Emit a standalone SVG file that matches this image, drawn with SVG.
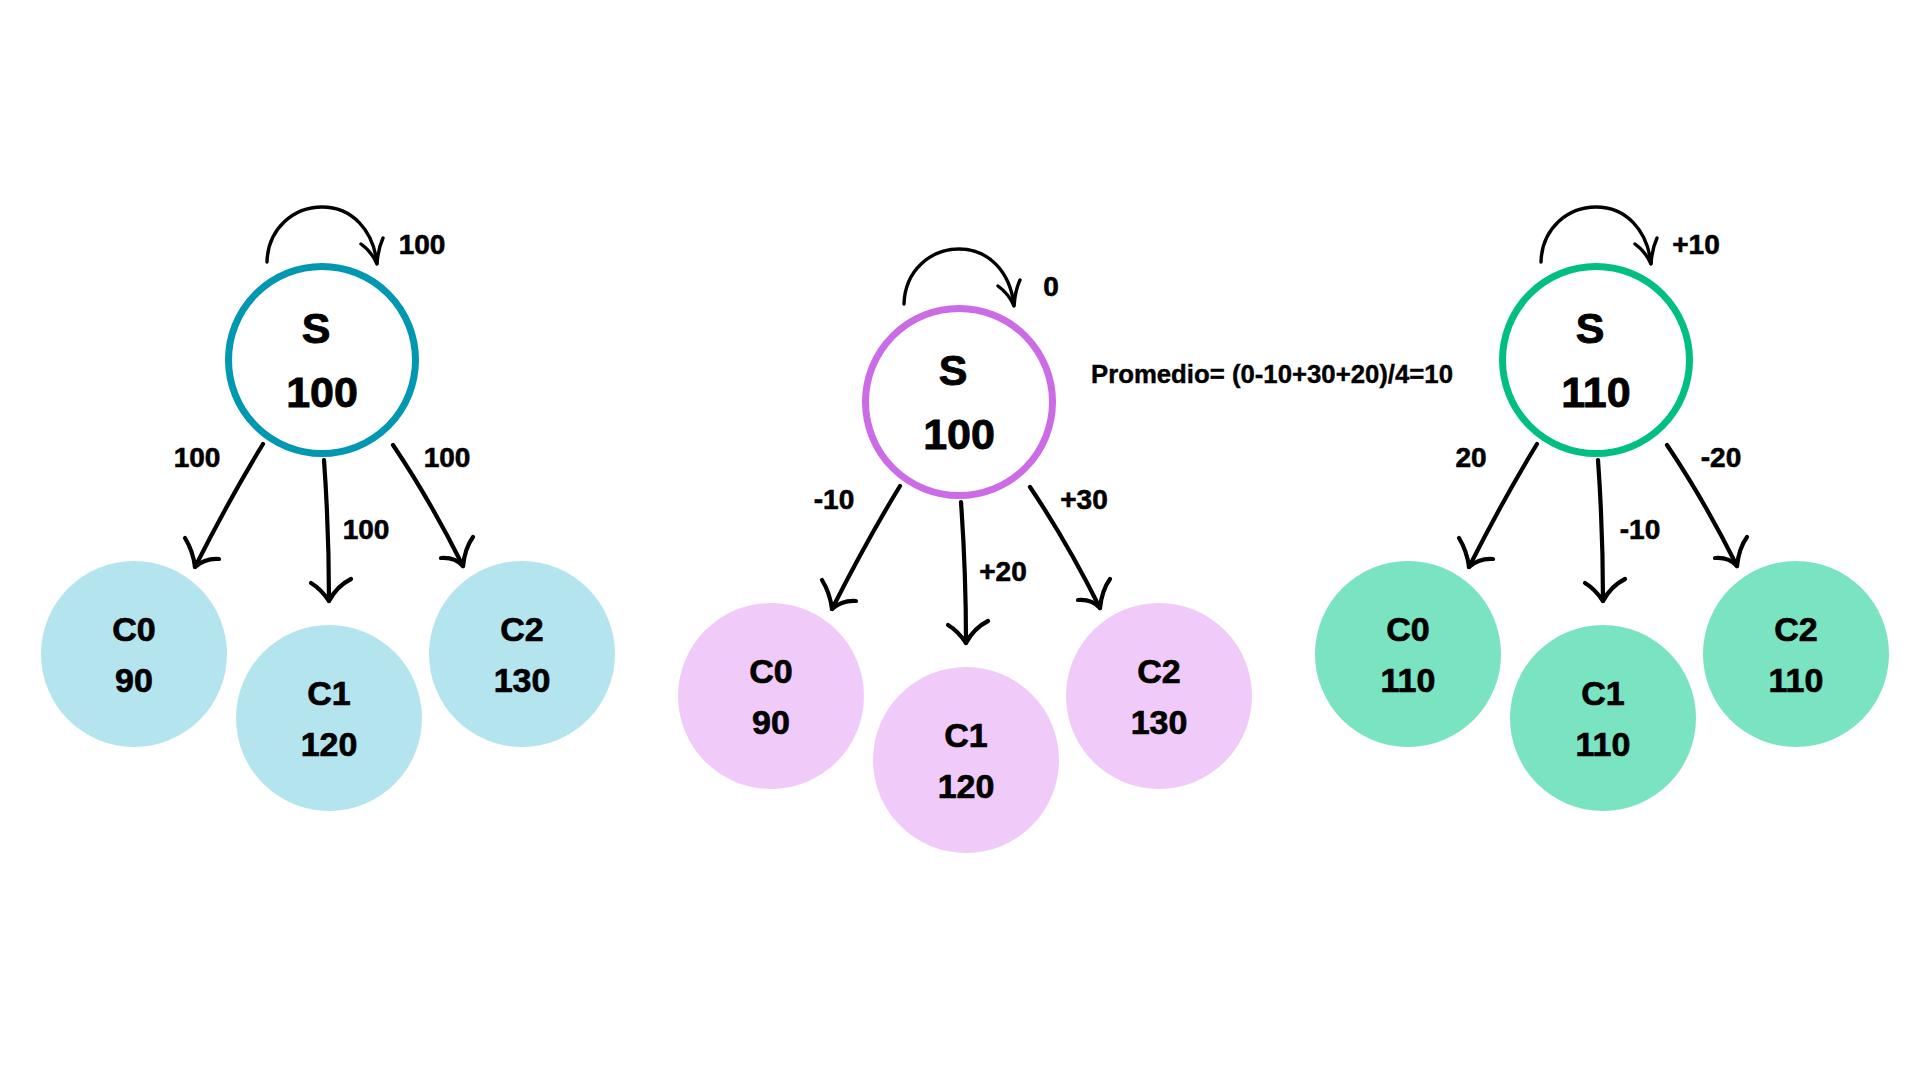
<svg xmlns="http://www.w3.org/2000/svg" width="1920" height="1080" viewBox="0 0 1920 1080">
<style>
.t{font-family:"Liberation Sans",Arial,sans-serif;font-weight:bold;fill:#000;stroke:#000;stroke-width:0.6;text-anchor:middle}
.ps{font-size:43px;stroke-width:0.9}
.cs{font-size:34px;stroke-width:0.7}
.lb{font-size:28px}
.ln{fill:none;stroke:#000;stroke-width:4.2;stroke-linecap:round;stroke-linejoin:round}
.lp{fill:none;stroke:#000;stroke-width:3.4;stroke-linecap:round;stroke-linejoin:round}
.pa{fill:#fff;stroke:#0097b2;stroke-width:7}
.pb{fill:#fff;stroke:#cb6ce6;stroke-width:7}
.pc{fill:#fff;stroke:#00bf7f;stroke-width:7}
.ca{fill:#b4e5ef}
.cb{fill:#f0cbf9}
.cc{fill:#7ae3c1}
</style>
<defs>
<g id="arrows">
<path class="lp" d="M267,262 C268,228 294,207 322,207 C352,207 373,230 377,263"/>
<path class="lp" d="M361,244 Q372,252 377,264 Q378,249 383,238"/>
<path class="ln" d="M263,444 Q230,498 195,567"/>
<path class="ln" d="M185,538 Q193,551 195,567 Q205,558 219,559"/>
<path class="ln" d="M324,460 Q329,530 329,601"/>
<path class="ln" d="M311,583 Q321,589 329,601 Q337,586 351,579"/>
<path class="ln" d="M393,445 Q430,500 463,566"/>
<path class="ln" d="M441,558 Q455,557 463,566 Q465,548 473,537"/>
</g>
</defs>
<rect width="1920" height="1080" fill="#fff"/>
<g id="connectors">
<use href="#arrows"/>
<use href="#arrows" transform="translate(637,42)"/>
<use href="#arrows" transform="translate(1274,0)"/>
</g>
<g id="connector-labels">
<text class="t lb" x="422" y="254">100</text>
<text class="t lb" x="197" y="467">100</text>
<text class="t lb" x="366" y="539">100</text>
<text class="t lb" x="447" y="467">100</text>
<text class="t lb" x="1051" y="296">0</text>
<text class="t lb" x="834" y="509">-10</text>
<text class="t lb" x="1003" y="581">+20</text>
<text class="t lb" x="1084" y="509">+30</text>
<text class="t lb" x="1696" y="254">+10</text>
<text class="t lb" x="1471" y="467">20</text>
<text class="t lb" x="1640" y="539">-10</text>
<text class="t lb" x="1721" y="467">-20</text>
</g>
<g id="left-S" transform="translate(322,360)">
<circle class="pa" r="93.5"/>
<text class="t ps" x="-6" y="-17">S</text>
<text class="t ps" x="0" y="47">100</text>
</g>
<g id="left-C0" transform="translate(134,654)">
<circle class="ca" r="93"/>
<text class="t cs" y="-13">C0</text>
<text class="t cs" y="38">90</text>
</g>
<g id="left-C1" transform="translate(329,718)">
<circle class="ca" r="93"/>
<text class="t cs" y="-13">C1</text>
<text class="t cs" y="38">120</text>
</g>
<g id="left-C2" transform="translate(522,654)">
<circle class="ca" r="93"/>
<text class="t cs" y="-13">C2</text>
<text class="t cs" y="38">130</text>
</g>
<g id="mid-S" transform="translate(959,402)">
<circle class="pb" r="93.5"/>
<text class="t ps" x="-6" y="-17">S</text>
<text class="t ps" x="0" y="47">100</text>
</g>
<g id="mid-C0" transform="translate(771,696)">
<circle class="cb" r="93"/>
<text class="t cs" y="-13">C0</text>
<text class="t cs" y="38">90</text>
</g>
<g id="mid-C1" transform="translate(966,760)">
<circle class="cb" r="93"/>
<text class="t cs" y="-13">C1</text>
<text class="t cs" y="38">120</text>
</g>
<g id="mid-C2" transform="translate(1159,696)">
<circle class="cb" r="93"/>
<text class="t cs" y="-13">C2</text>
<text class="t cs" y="38">130</text>
</g>
<g id="promedio">
<text class="t" x="1091" y="383" style="font-size:25px;text-anchor:start;stroke-width:0.4" textLength="362" lengthAdjust="spacingAndGlyphs">Promedio= (0-10+30+20)/4=10</text>
</g>
<g id="right-S" transform="translate(1596,360)">
<circle class="pc" r="93.5"/>
<text class="t ps" x="-6" y="-17">S</text>
<text class="t ps" x="0" y="47">110</text>
</g>
<g id="right-C0" transform="translate(1408,654)">
<circle class="cc" r="93"/>
<text class="t cs" y="-13">C0</text>
<text class="t cs" y="38">110</text>
</g>
<g id="right-C1" transform="translate(1603,718)">
<circle class="cc" r="93"/>
<text class="t cs" y="-13">C1</text>
<text class="t cs" y="38">110</text>
</g>
<g id="right-C2" transform="translate(1796,654)">
<circle class="cc" r="93"/>
<text class="t cs" y="-13">C2</text>
<text class="t cs" y="38">110</text>
</g>
</svg>
